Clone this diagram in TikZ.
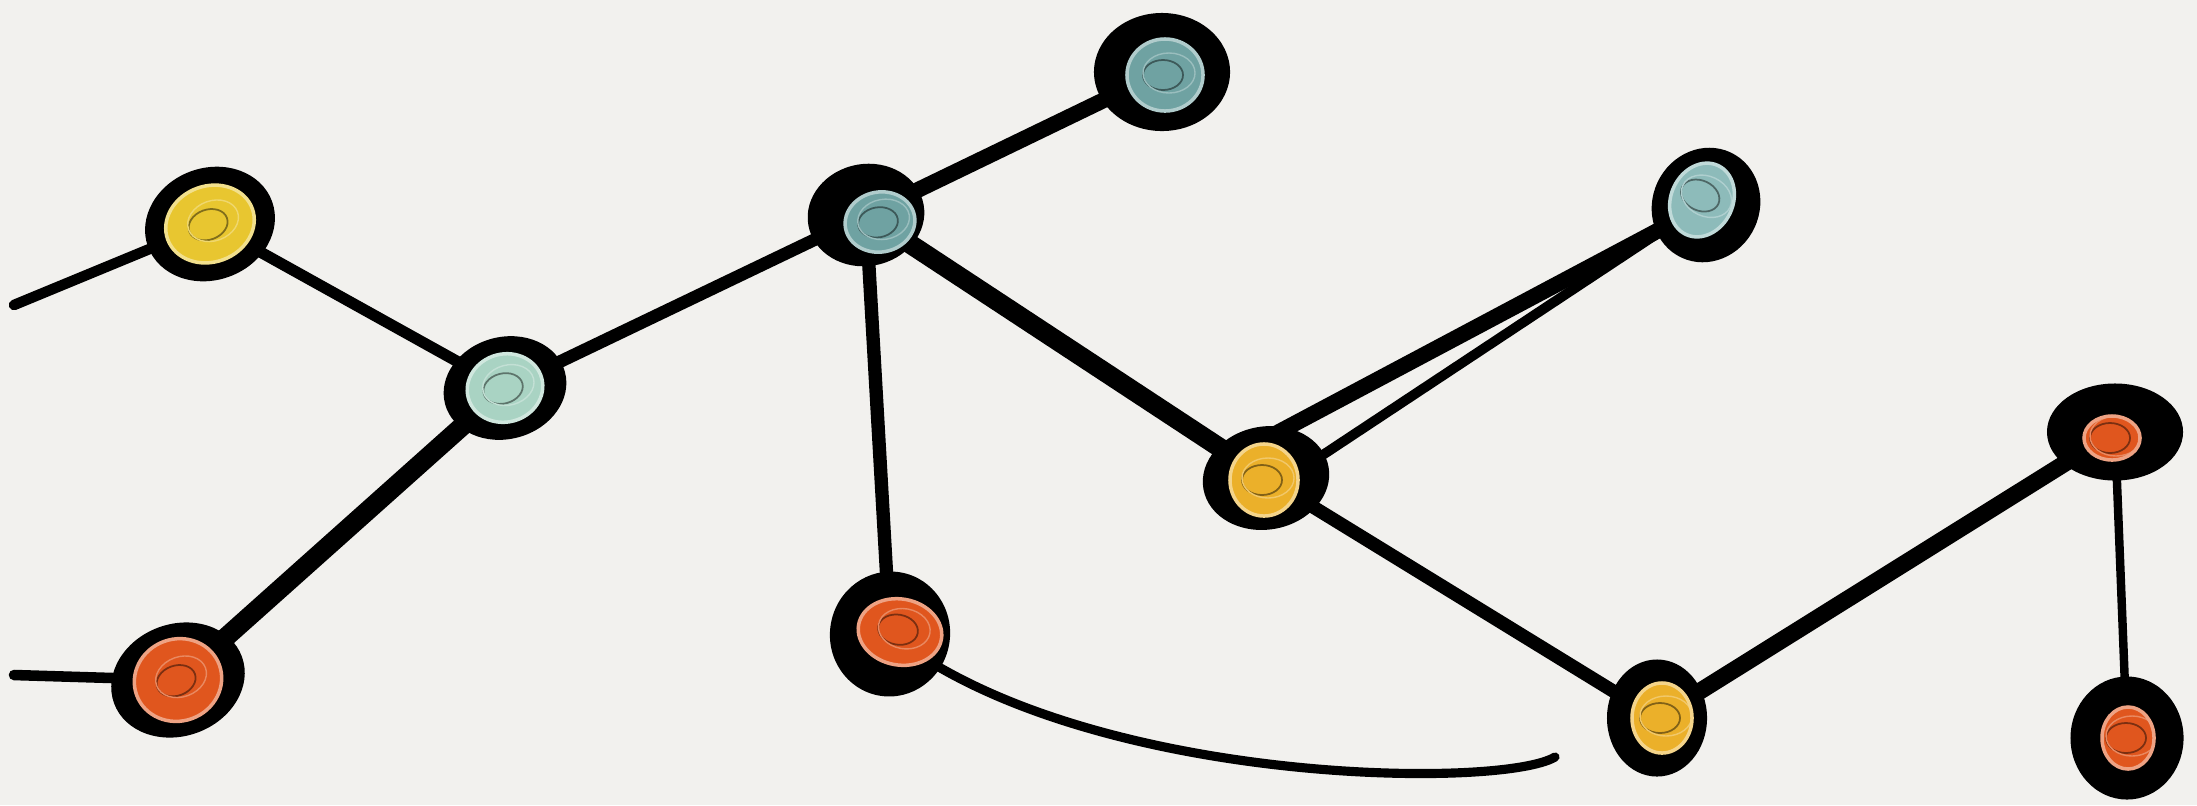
\documentclass[tikz,border=0pt]{standalone}
\usetikzlibrary{shapes.geometric}
\pgfdeclarelayer{edges}
\pgfsetlayers{edges,main}
\definecolor{bg}{HTML}{F2F1EE}
\definecolor{yel}{HTML}{E8C630}
\definecolor{gold}{HTML}{EBB02A}
\definecolor{mint}{HTML}{A9D3C3}
\definecolor{teal}{HTML}{6FA2A2}
\definecolor{tealL}{HTML}{8DBBBA}
\definecolor{org}{HTML}{E0561E}
\tikzset{
  blob/.style={ellipse, fill=black, draw=none, inner sep=0pt},
  core/.style={ellipse, fill=#1, draw=#1!55!white, line width=1pt, inner sep=0pt,
    path picture={
      \draw[#1!55!black, line width=0.5pt] ([xshift=-0.02cm]path picture bounding box.center) ellipse [x radius=0.2cm, y radius=0.15cm];
      \draw[#1!70!white, line width=0.4pt] ([xshift=0.04cm,yshift=0.02cm]path picture bounding box.center) ellipse [x radius=0.26cm, y radius=0.2cm];
    }},
  wire/.style={draw=black, line cap=round, line width=#1},
}
\begin{document}
\begin{tikzpicture}[x=0.01cm,y=-0.01cm]
\useasboundingbox (0,0) rectangle (2197,805);
\begin{pgfonlayer}{edges}
\fill[bg] (0,0) rectangle (2197,805);
\end{pgfonlayer}
% nodes
\node[blob, minimum width=1.32cm, minimum height=1.12cm, rotate=20] (n1) at (210,224) {};
\node[core=yel, minimum width=0.90cm, minimum height=0.76cm, rotate=20] (c1) at (n1) {};
\node[blob, minimum width=1.24cm, minimum height=1.02cm, rotate=15] (n2) at (505,388) {};
\node[core=mint, minimum width=0.76cm, minimum height=0.68cm, rotate=15] (c2) at (n2) {};
\node[blob, minimum width=1.36cm, minimum height=1.12cm, rotate=20] (n3) at (178,680) {};
\node[core=org, minimum width=0.88cm, minimum height=0.82cm, rotate=20] (c3) at (n3) {};
\node[blob, minimum width=1.17cm, minimum height=1.02cm, rotate=10] (n4) at (866,215) {};
\node[core=teal, minimum width=0.70cm, minimum height=0.60cm, rotate=10] (c4) at (880,222) {};
\node[blob, minimum width=1.36cm, minimum height=1.18cm] (n5) at (1162,72) {};
\node[core=teal, minimum width=0.76cm, minimum height=0.72cm] (c5) at (1165,75) {};
\node[blob, minimum width=1.20cm, minimum height=1.25cm, rotate=-10] (n6) at (890,634) {};
\node[core=org, minimum width=0.84cm, minimum height=0.66cm, rotate=-10] (c6) at (900,632) {};
\node[blob, minimum width=1.27cm, minimum height=1.03cm, rotate=10] (n7) at (1266,478) {};
\node[core=gold, minimum width=0.68cm, minimum height=0.72cm] (c7) at (1264,480) {};
\node[blob, minimum width=1.07cm, minimum height=1.16cm, rotate=-25] (n8) at (1706,205) {};
\node[core=tealL, minimum width=0.62cm, minimum height=0.76cm, rotate=-25] (c8) at (1702,200) {};
\node[blob, minimum width=1.00cm, minimum height=1.17cm] (n9) at (1657,718) {};
\node[core=gold, minimum width=0.60cm, minimum height=0.70cm] (c9) at (1662,718) {};
\node[blob, minimum width=1.36cm, minimum height=0.97cm] (n10) at (2115,432) {};
\node[core=org, minimum width=0.56cm, minimum height=0.44cm] (c10) at (2112,438) {};
\node[blob, minimum width=1.13cm, minimum height=1.23cm] (n11) at (2127,738) {};
\node[core=org, minimum width=0.52cm, minimum height=0.62cm] (c11) at (2128,738) {};
% free ends
\coordinate (fa) at (14,305);
\coordinate (fb) at (14,675);
\coordinate (fc) at (1555,757);
\coordinate (d1) at (1245,450);
\coordinate (d2) at (1300,470);
\coordinate (d4) at (1690,212);
% connectors
\begin{pgfonlayer}{edges}
\draw[wire=3pt] (fa) -- (n1.center);
\draw[wire=3pt] (fb) -- (n3.center);
\draw[wire=3.2pt] (n1.center) -- (n2.center);
\draw[wire=5.5pt] (n3.center) -- (n2.center);
\draw[wire=3.6pt] (n2.center) -- (n4.center);
\draw[wire=4.5pt] (n4.center) -- (n5.center);
\draw[wire=3.8pt] (n4.center) -- (n6.center);
\draw[wire=5.5pt] (n4.center) -- (n7.center);
\draw[wire=4.5pt] (d1) -- (n8.center);
\draw[wire=2.8pt] (d2) -- (d4);
\draw[wire=3.8pt] (n7.center) -- (n9.center);
\draw[wire=4.8pt] (n9.center) -- (n10.center);
\draw[wire=2.4pt] (n10.center) -- (n11.center);
\draw[wire=2.6pt] (n6.center) .. controls (1080,785) and (1500,790) .. (fc);
\end{pgfonlayer}
\end{tikzpicture}
\end{document}
